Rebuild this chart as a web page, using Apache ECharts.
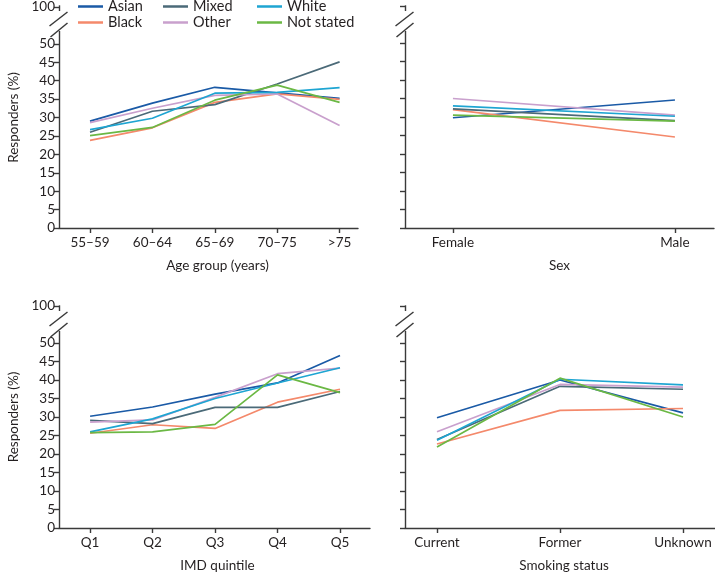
<!DOCTYPE html>
<html><head><meta charset="utf-8">
<script src="https://cdn.jsdelivr.net/npm/echarts@6/dist/echarts.min.js"></script>
<style>html,body{margin:0;padding:0;background:#fff}#c{width:715px;height:579px}</style>
</head><body><div id="c"></div>
<script>
// ---- data ----
const groups = ['Asian','Black','Mixed','Other','White','Not stated'];
const colors = ['#1a5aa6','#f4896b','#4b6a78','#c9a0cd','#1ea5d2','#6bb844'];

const ageCats = ['55–59','60–64','65–69','70–75','>75'];
const ageAsian = [29.0, 33.9, 38.2, 36.7, 35.2];
const ageBlack = [23.8, 27.2, 34.1, 36.4, 34.9];
const ageMixed = [26.0, 31.7, 33.5, 39.1, 45.1];
const ageOther = [28.6, 32.5, 36.0, 36.4, 27.8];
const ageWhite = [26.7, 29.8, 36.6, 36.8, 38.1];
const ageNS    = [25.1, 27.3, 34.7, 38.8, 34.1];

const sexCats = ['Female','Male'];
const sexAsian = [29.8, 34.6];
const sexBlack = [32.0, 24.6];
const sexMixed = [32.2, 29.0];
const sexOther = [35.0, 30.5];
const sexWhite = [33.0, 30.2];
const sexNS    = [30.5, 28.9];

const imdCats = ['Q1','Q2','Q3','Q4','Q5'];
const imdAsian = [30.2, 32.7, 36.2, 39.2, 46.6];
const imdBlack = [25.6, 27.9, 26.9, 34.0, 37.5];
const imdMixed = [29.1, 28.2, 32.6, 32.6, 36.9];
const imdOther = [28.6, 29.2, 35.3, 41.7, 43.2];
const imdWhite = [26.0, 29.5, 35.0, 39.2, 43.3];
const imdNS    = [25.8, 26.0, 28.0, 41.4, 36.6];

const smkCats = ['Current','Former','Unknown'];
const smkAsian = [29.8, 40.0, 31.1];
const smkBlack = [22.7, 31.8, 32.3];
const smkMixed = [23.9, 38.3, 37.5];
const smkOther = [26.0, 38.8, 38.1];
const smkWhite = [23.7, 40.2, 38.7];
const smkNS    = [21.9, 40.5, 30.0];

const yTicks = [0,5,10,15,20,25,30,35,40,45,50,60]; // 60 position shows "100" (broken axis)
const yTopLabel = '100';

// ---- build ----
const panels = [
  {cats: ageCats, data:[ageAsian,ageBlack,ageMixed,ageOther,ageWhite,ageNS], name:'Age group (years)', grid:{left:59,right:357,top:6,bottom:351}, min:-0.497, max:4.295, labels:true, namePad:[0,0,0,18]},
  {cats: sexCats, data:[sexAsian,sexBlack,sexMixed,sexOther,sexWhite,sexNS], name:'Sex', grid:{left:405,right:1,top:6,bottom:351}, min:-0.216, max:1.176, labels:false, namePad:[0,0,0,0]},
  {cats: imdCats, data:[imdAsian,imdBlack,imdMixed,imdOther,imdWhite,imdNS], name:'IMD quintile', grid:{left:59,right:345,top:306,bottom:51}, min:-0.498, max:4.48, labels:true, namePad:[0,0,0,6]},
  {cats: smkCats, data:[smkAsian,smkBlack,smkMixed,smkOther,smkWhite,smkNS], name:'Smoking status', grid:{left:405,right:0,top:306,bottom:51}, min:-0.26, max:2.26, labels:false, namePad:[0,0,0,8]}
];

const FONT = 'Lato';
const TXT = '#231f20';
const AX = '#3a3a3a';
const H = 579;

const grids=[], xAxes=[], yAxes=[], series=[], graphics=[];
panels.forEach((p, k) => {
  grids.push(Object.assign({containLabel:false}, p.grid));
  xAxes.push({
    type:'value', gridIndex:k, min:p.min, max:p.max,
    name:p.name, nameLocation:'middle', nameGap:31,
    nameTextStyle:{color:TXT, fontFamily:FONT, fontSize:13.5, padding:p.namePad},
    splitLine:{show:false},
    axisLine:{show:true, onZero:false, lineStyle:{color:AX, width:1.4}},
    axisTick:{show:true, inside:false, length:5, lineStyle:{color:AX, width:1.4}, customValues:p.cats.map((c,i)=>i)},
    axisLabel:{show:true, margin:8, color:TXT, fontFamily:FONT, fontSize:13.5, customValues:p.cats.map((c,i)=>i), formatter:(v)=>p.cats[Math.round(v)]}
  });
  yAxes.push({
    type:'value', gridIndex:k, min:0, max:60,
    name: p.labels ? 'Responders (%)' : '', nameLocation:'middle', nameGap:38, nameRotate:90,
    nameTextStyle:{color:TXT, fontFamily:FONT, fontSize:13.5},
    splitLine:{show:false},
    axisLine:{show:true, onZero:false, lineStyle:{color:'rgba(0,0,0,0)', width:0}},
    axisTick:{show:true, inside:false, length:5, lineStyle:{color:AX, width:1.4}, customValues:yTicks},
    axisLabel:{show:p.labels, margin:4, color:TXT, fontFamily:FONT, fontSize:13.5, customValues:yTicks, formatter:(v)=> v===60 ? yTopLabel : String(v)}
  });
  groups.forEach((g, j) => {
    series.push({
      type:'line', name:g, xAxisIndex:k, yAxisIndex:k,
      data:p.cats.map((c,i)=>[i, p.data[j][i]]),
      symbol:'none', lineStyle:{color:colors[j], width:1.7}, itemStyle:{color:colors[j]},
      animation:false, silent:true
    });
  });
  // broken y-axis line + break marks (decoration)
  const Y = p.grid.left + 0.5, T = p.grid.top, B = H - p.grid.bottom;
  graphics.push({type:'line', shape:{x1:Y, y1:T-0.7, x2:Y, y2:T+5}, style:{stroke:AX, lineWidth:1.4}});
  graphics.push({type:'line', shape:{x1:Y, y1:T+25, x2:Y, y2:B+0.7}, style:{stroke:AX, lineWidth:1.4}});
  graphics.push({type:'line', shape:{x1:Y-10, y1:T+20, x2:Y+8, y2:T+6}, style:{stroke:AX, lineWidth:1.5}});
  graphics.push({type:'line', shape:{x1:Y-9, y1:T+31, x2:Y+8, y2:T+17}, style:{stroke:AX, lineWidth:1.5}});
});

const legendCols = [['Asian','Black'],['Mixed','Other'],['White','Not stated']];
const legendLefts = [78, 163, 257];
const legends = legendCols.map((d, i) => ({
  data:d, orient:'vertical', left:legendLefts[i], top:-1, padding:0, itemWidth:25, itemHeight:2.5, itemGap:1,
  icon:'rect', selectedMode:false,
  textStyle:{color:TXT, fontFamily:FONT, fontSize:14.5, lineHeight:15, padding:[0,0,0,0]}
}));

const chart = echarts.init(document.getElementById('c'), null, {renderer:'canvas'});
chart.setOption({
  backgroundColor:'#fff', animation:false,
  legend:legends, grid:grids, xAxis:xAxes, yAxis:yAxes, series:series, graphic:graphics
});
</script></body></html>
